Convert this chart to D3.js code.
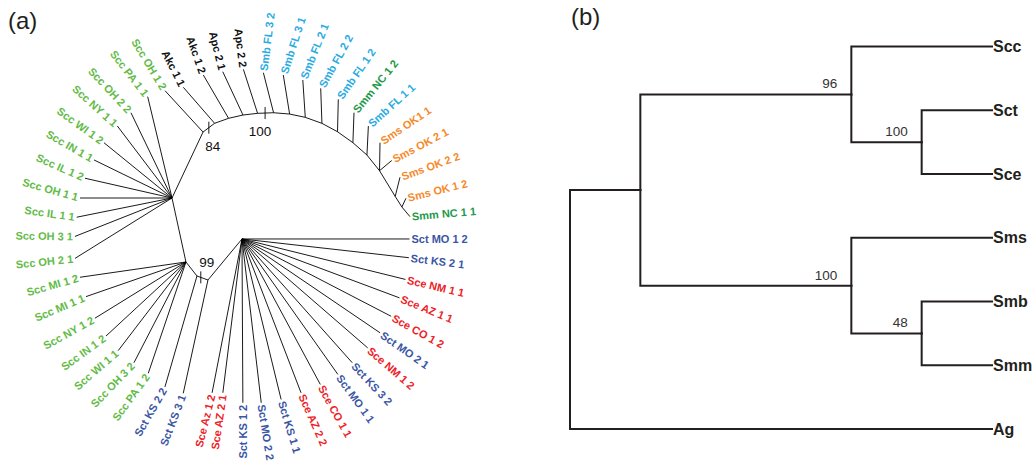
<!DOCTYPE html>
<html><head><meta charset="utf-8">
<script src="https://cdn.jsdelivr.net/npm/d3@7"></script>
<style>
body{margin:0;background:#fff}
svg{display:block}
text{font-family:"Liberation Sans",Arial,Helvetica,sans-serif}
</style>
</head><body>
<svg id="chart" width="1035" height="471"></svg>
<script>
// ---------- Panel (a): unrooted tree ----------
const speciesNames  = ["Scc","Sct","Sce","Smb","Smm","Sms","Akc","Apc"];
const speciesColors = ["#62bb47","#3a55a4","#ed2227","#29abe2","#1e984a","#f58a2b","#111111","#111111"];

// internal nodes: [id, parent, branch length, branch direction (deg)]
const treeNodes = [
  ["H1", null, 0, 0],
  ["N84","H1",72.9,-64.8],
  ["H2","H1",65.5,77.7],
  ["A","H2",17.8,51.8],
  ["J","A",11.7,20],
  ["H3","J",53.3,-50.3],
  ["a1","N84",14.5,-37],
  ["a2","a1",14.8,-19.7],
  ["a3","a2",14.8,-12.9],
  ["a4","a3",14.7,-6.6],
  ["a5","a4",16.0,-2.1],
  ["a6","a5",16.1,4.6],
  ["a7","a6",16.0,11.9],
  ["a8","a7",17.7,19.8],
  ["a9","a8",17.7,28.3],
  ["a10","a9",18.9,35.5],
  ["a11","a10",18.7,41.3],
  ["a12","a11",20.1,51.3],
  ["a13","a12",30.1,58.6],
  ["a14","a13",12.5,57.7]
];

// leaves: [label, parent node, branch length, branch direction (deg), label direction (deg)]
const treeLeaves = [
  ["Scc PA 1 1","H1",104.2,-103.5,-128],
  ["Scc OH 2 2","H1",94.6,-115.7,-133],
  ["Scc NY 1 1","H1",90.4,-127.2,-138],
  ["Scc WI 1 2","H1",87.6,-140.9,-144],
  ["Scc IN 1 1","H1",86.8,-154.0,-150],
  ["Scc IL 1 2","H1",89.2,-167.2,-156],
  ["Scc OH 1 1","H1",92.0,180,-164],
  ["Scc IL 1 1","H1",97.2,168.6,-172],
  ["Scc OH 3 1","H1",104.4,158.4,-179],
  ["Scc OH 2 1","H1",114.2,148.1,174],
  ["Scc MI 1 2","H2",107.1,171.8,164],
  ["Scc MI 1 1","H2",105.8,160.9,157],
  ["Scc NY 1 2","H2",107.0,148.3,151],
  ["Scc IN 1 2","H2",109.0,137.2,144],
  ["Scc WI 1 1","H2",111.6,127.4,139],
  ["Scc OH 3 2","H2",113.3,117.3,134],
  ["Scc PA 1 2","H2",117.5,108.7,126],
  ["Sct KS 2 2","A",115.5,106.1,120],
  ["Sct KS 3 1","J",116.0,102.3,111],
  ["Sce Az 1 2","H3",156.7,101.0,104],
  ["Sce AZ 2 1","H3",155.0,97.1,98],
  ["Sct KS 1 2","H3",163.8,89.7,90],
  ["Sct MO 2 2","H3",164.9,83.3,81],
  ["Sct KS 1 1","H3",165.2,76.3,73],
  ["Sce AZ 2 2","H3",164.8,69.0,66],
  ["Sce CO 1 1","H3",165.2,61.7,61],
  ["Sct MO 1 1","H3",165.9,54.7,54],
  ["Sct KS 3 2","H3",165.7,48.3,47],
  ["Sce NM 1 2","H3",166.3,40.9,41],
  ["Sct MO 2 1","H3",167.0,34.2,35],
  ["Sce CO 1 2","H3",168.0,27.4,29],
  ["Sce AZ 1 1","H3",168.1,20.5,22],
  ["Sce NM 1 1","H3",168.4,13.9,13],
  ["Sct KS 2 1","H3",167.9,6.4,7],
  ["Sct MO 1 2","H3",167.5,0,0],
  ["Scc OH 1 2","N84",56.1,-132.6,-121],
  ["Akc 1 1","a1",47.7,-131.0,-117],
  ["Akc 1 2","a2",50.1,-120.2,-109],
  ["Apc 2 1","a3",47.8,-115.0,-104],
  ["Apc 2 2","a4",46.2,-107.9,-97],
  ["Smb FL 3 2","a5",41.3,-104.3,-83],
  ["Smb FL 3 1","a6",39.5,-99.2,-72],
  ["Smb FL 2 1","a7",37.4,-93.8,-68],
  ["Smb FL 2 2","a8",35.0,-92.0,-61],
  ["Smb FL 1 2","a9",32.4,-88.6,-55],
  ["Smm NC 1 2","a10",30.0,-87.9,-51],
  ["Smb FL 1 1","a11",29.0,-87.2,-42],
  ["Sms OK1 1","a12",28.0,-89.0,-34],
  ["Sms OK 2 1","a12",15.9,-39.9,-28],
  ["Sms OK 2 2","a13",19.7,-75.9,-20],
  ["Sms OK 1 2","a14",9.6,-64.8,-14],
  ["Smm NC 1 1","a14",12.6,50.1,-5]
];

// bootstrap support on branches: [from node, to node, value]
const treeSupport = [["N84","a1",84],["a4","a5",100],["A","J",99]];

// ---------- Panel (b): species tree ----------
// [node, parent, branch length (rank units)]
const spEdges = [
  ["root",null,0],
  ["n1","root",1],
  ["n2","n1",3],
  ["Scc","n2",2],
  ["n3","n2",1],
  ["Sct","n3",1],
  ["Sce","n3",1],
  ["n4","n1",3],
  ["Sms","n4",2],
  ["n5","n4",1],
  ["Smb","n5",1],
  ["Smm","n5",1],
  ["Ag","root",6]
];
const spSupport = [["n2",96],["n3",100],["n4",100],["n5",48]];

// ================= drawing =================
const svg = d3.select("#chart");
const colorOf = d3.scaleOrdinal().domain(speciesNames).range(speciesColors);

// ----- panel (a)
const gA = svg.append("g").attr("transform","translate(172,198)");
const lenScale = d3.scaleLinear().domain([0,100]).range([0,100]);
const rad = d => d*Math.PI/180;
const pos = new Map();
const polar = (p,len,ang) => [p[0]+lenScale(len)*Math.cos(rad(ang)), p[1]+lenScale(len)*Math.sin(rad(ang))];
treeNodes.forEach(([id,parent,len,ang]) => {
  pos.set(id, parent ? polar(pos.get(parent),len,ang) : [0,0]);
});
const line = d3.line();
const segs = [];
treeNodes.forEach(([id,parent]) => { if (parent) segs.push([pos.get(parent),pos.get(id)]); });
const leafData = treeLeaves.map(([name,parent,len,ang,lab]) => {
  const p = pos.get(parent), t = polar(p,len,ang);
  segs.push([p,t]);
  return {name, tip:t, lab, sp:name.split(" ")[0]};
});
gA.selectAll("path.br").data(segs).join("path").attr("class","br")
  .attr("d", d => line(d)).attr("fill","none").attr("stroke","#000").attr("stroke-width",0.9);

gA.selectAll("text.leaf").data(leafData).join("text").attr("class","leaf")
  .each(function(d){
    const flip = Math.cos(rad(d.lab)) < 0.01;
    d3.select(this)
      .attr("transform",`translate(${d.tip[0]},${d.tip[1]}) rotate(${flip ? d.lab+180 : d.lab})`)
      .attr("x", flip ? -2 : 2)
      .attr("text-anchor", flip ? "end" : "start");
  })
  .attr("dominant-baseline","central")
  .attr("font-size",11).attr("font-weight","bold")
  .attr("fill", d => colorOf(d.sp))
  .text(d => d.name);

const supportOffset = {84:[4,19],100:[-5,18],99:[6,-15]};
const supportFrac = {84:0.5,100:0.47,99:0.35};
treeSupport.forEach(([a,b,v]) => {
  const p = pos.get(a), q = pos.get(b), f = supportFrac[v];
  const m = [p[0]+(q[0]-p[0])*f, p[1]+(q[1]-p[1])*f];
  gA.append("line").attr("x1",m[0]).attr("x2",m[0]).attr("y1",m[1]-6).attr("y2",m[1]+6)
    .attr("stroke","#000").attr("stroke-width",0.9);
  gA.append("text").attr("x",m[0]+supportOffset[v][0]).attr("y",m[1]+supportOffset[v][1])
    .attr("text-anchor","middle").attr("dominant-baseline","central")
    .attr("font-size",13.5).attr("fill","#111").text(v);
});

svg.append("text").attr("x",8).attr("y",29).attr("font-size",24).attr("fill","#231f20").text("(a)");
svg.append("text").attr("x",571).attr("y",25).attr("font-size",24).attr("fill","#231f20").text("(b)");

// ----- panel (b)
const strat = d3.stratify().id(d=>d[0]).parentId(d=>d[1]);
const root = strat(spEdges);
d3.cluster().size([1,1]).separation(()=>1)(root);
root.eachBefore(n => { n.dist = n.parent ? n.parent.dist + n.data[2] : 0; });
const xB = d3.scaleLinear().domain([0,6]).range([570,992]);
const yB = d3.scaleLinear().domain([0,1]).range([14.7,461]);
const gB = svg.append("g");
gB.selectAll("path").data(root.descendants().filter(n=>n.parent)).join("path")
  .attr("d", n => `M${xB(n.parent.dist)},${yB(n.parent.x)}V${yB(n.x)}H${xB(n.dist)}`)
  .attr("fill","none").attr("stroke","#231f20").attr("stroke-width",2).attr("stroke-linecap","square");
gB.selectAll("text.lf").data(root.leaves()).join("text").attr("class","lf")
  .attr("x", n => xB(n.dist)+1).attr("y", n => yB(n.x))
  .attr("dominant-baseline","central").attr("font-size",16).attr("font-weight","bold")
  .attr("fill","#231f20").text(n => n.id);
const supMap = new Map(spSupport);
gB.selectAll("text.sup").data(root.descendants().filter(n=>supMap.has(n.id))).join("text").attr("class","sup")
  .attr("x", n => xB(n.dist)-14).attr("y", n => yB(n.x)-6)
  .attr("text-anchor","end").attr("font-size",13.5).attr("fill","#333")
  .text(n => supMap.get(n.id));
</script>
</body></html>
